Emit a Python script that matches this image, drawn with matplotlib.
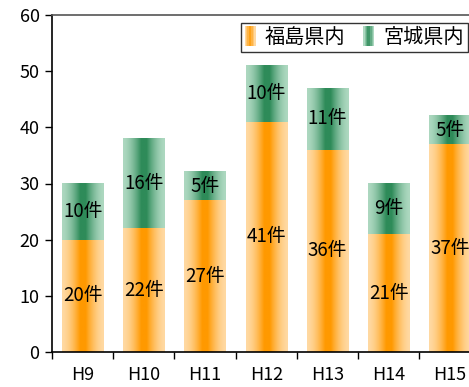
import numpy as np
import matplotlib
matplotlib.use("Agg")
import matplotlib.pyplot as plt
from matplotlib.colors import LinearSegmentedColormap
from matplotlib.legend_handler import HandlerBase
from matplotlib.patches import Rectangle

categories = ["H9", "H10", "H11", "H12", "H13", "H14", "H15"]
fukushima = [20, 22, 27, 41, 36, 21, 37]
miyagi = [10, 16, 5, 10, 11, 9, 5]
series_names = ["福島県内", "宮城県内"]
yticks = [0, 10, 20, 30, 40, 50, 60]

plt.rcParams["font.family"] = ["Noto Sans CJK JP", "DejaVu Sans"]

orange_cmap = LinearSegmentedColormap.from_list("orange_grad", ["#FFD9A2", "#FF9900"])
green_cmap = LinearSegmentedColormap.from_list("green_grad", ["#ADD8C0", "#2E8B59"])

# horizontal light-dark-light profile used for every bar
profile = 1.0 - np.abs(np.linspace(-1, 1, 101))
profile = np.clip(profile * 1.15, 0, 1) ** 1.6

W, H = 469, 387
fig = plt.figure(figsize=(W / 100, H / 100), dpi=100)
step = 61.2
ax = fig.add_axes([52 / W, 1 - 352 / H, 7 * step / W, 337 / H])

x = np.arange(len(categories))
bar_w = 0.67


def gradient_bars(values, bottoms, cmap):
    bars = ax.bar(x, values, width=bar_w, bottom=bottoms, color="none",
                  edgecolor="none", zorder=2)
    for p in bars:
        x0, y0 = p.get_x(), p.get_y()
        ax.imshow(profile[None, :], cmap=cmap, vmin=0, vmax=1, aspect="auto",
                  extent=(x0, x0 + p.get_width(), y0, y0 + p.get_height()),
                  interpolation="bilinear", zorder=2)
    return bars


gradient_bars(fukushima, [0] * len(fukushima), orange_cmap)
gradient_bars(miyagi, fukushima, green_cmap)

for xi, f, m in zip(x, fukushima, miyagi):
    ax.text(xi, f / 2, f"{f}件", ha="center", va="center", fontsize=13.5, zorder=3)
    ax.text(xi, f + m / 2, f"{m}件", ha="center", va="center", fontsize=13.5, zorder=3)

ax.set_xlim(-0.5, len(categories) - 0.5)
ax.set_ylim(0, 60)
ax.set_yticks(yticks)
ax.tick_params(axis="y", labelsize=13, length=5, width=1, direction="out", pad=4)

ax.set_xticks(np.arange(-0.5, len(categories), 1.0))
ax.set_xticklabels([])
ax.set_xticks(x, minor=True)
ax.set_xticklabels(categories, minor=True)
ax.tick_params(axis="x", which="major", length=5, width=1, direction="out")
ax.tick_params(axis="x", which="minor", length=0, labelsize=13, pad=10)

for side in ["left", "bottom"]:
    ax.spines[side].set_color("black")
    ax.spines[side].set_linewidth(1.2)
ax.spines["top"].set_color("#555555")
ax.spines["top"].set_linewidth(1.2)
ax.spines["right"].set_visible(False)


class GradientHandler(HandlerBase):
    def __init__(self, cmap):
        super().__init__()
        self.cmap = cmap

    def create_artists(self, legend, orig_handle, xdescent, ydescent, width,
                       height, fontsize, trans):
        n = 8
        sw = width / n
        artists = []
        prof = 1.0 - np.abs(np.linspace(-1, 1, n))
        for i in range(n):
            r = Rectangle((-xdescent + i * sw, -ydescent - 1), sw * 1.05, height + 2,
                          facecolor=self.cmap(prof[i]), edgecolor="none",
                          transform=trans)
            artists.append(r)
        return artists


h1 = Rectangle((0, 0), 1, 1)
h2 = Rectangle((0, 0), 1, 1)
leg = fig.legend([h1, h2], series_names, loc="upper right",
                 bbox_to_anchor=(468 / W, 1 - 23 / H),
                 ncol=2, fontsize=14.5, frameon=True, fancybox=False,
                 handlelength=0.55, handleheight=0.9, handletextpad=0.45,
                 columnspacing=0.9, borderpad=0.2, borderaxespad=0,
                 handler_map={h1: GradientHandler(orange_cmap),
                              h2: GradientHandler(green_cmap)})
leg.get_frame().set_edgecolor("black")
leg.get_frame().set_linewidth(1.0)

fig.savefig("out.png", dpi=100)
